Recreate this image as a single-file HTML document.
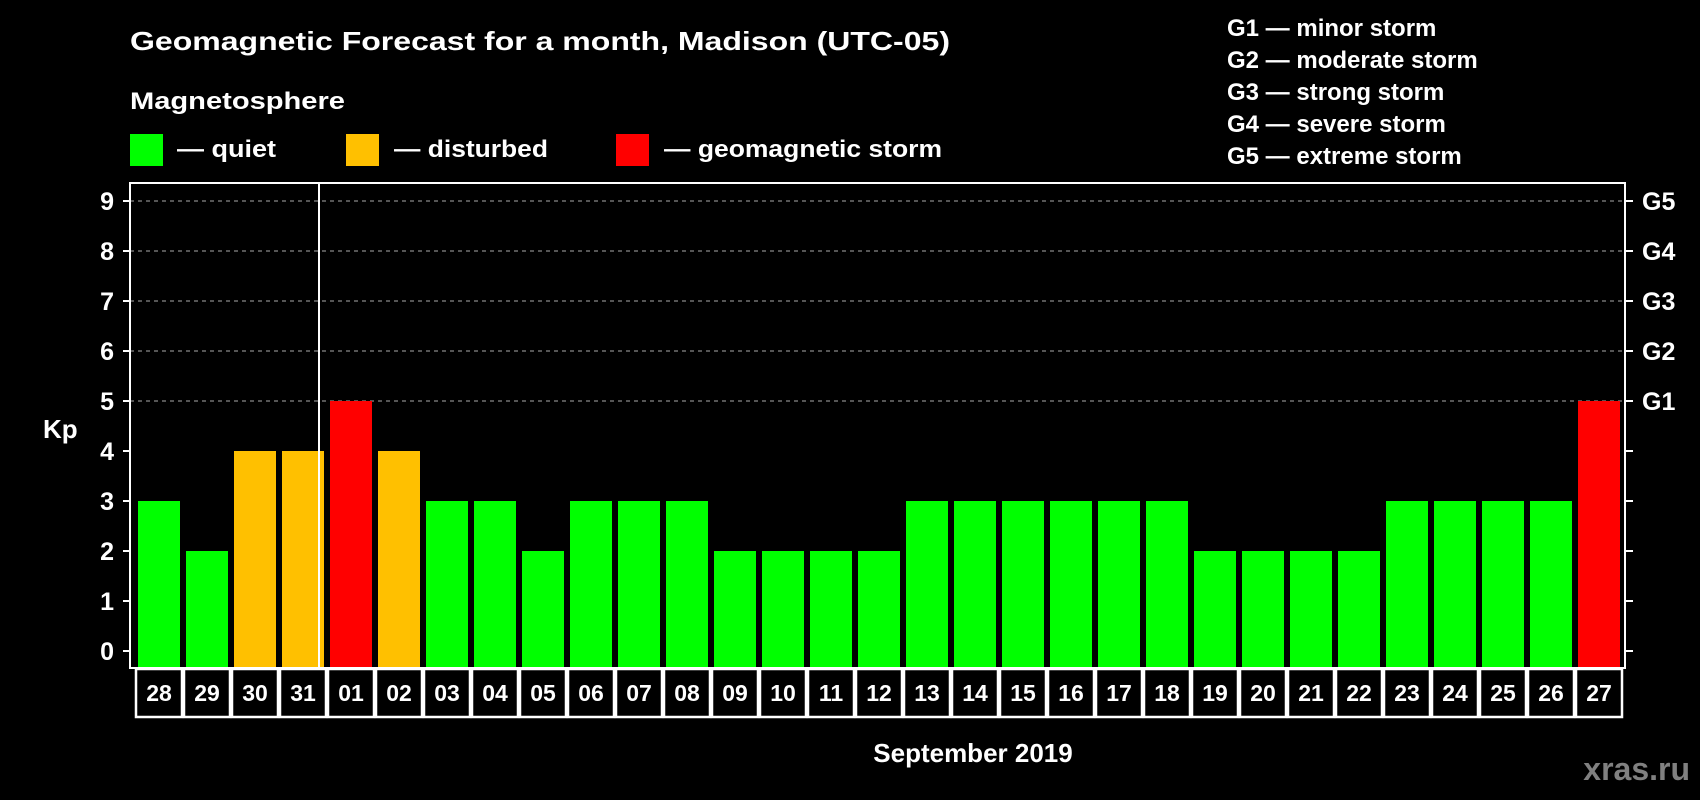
<!DOCTYPE html>
<html><head><meta charset="utf-8"><style>
html,body{margin:0;padding:0;background:#000;}
svg{display:block;font-family:"Liberation Sans",sans-serif;font-weight:bold;}
</style></head><body>
<svg id="chart" width="1700" height="800" viewBox="0 0 1700 800" xmlns="http://www.w3.org/2000/svg">
<rect width="1700" height="800" fill="#000"/>
<text x="130" y="50" fill="#fff" font-size="26" textLength="820" lengthAdjust="spacingAndGlyphs">Geomagnetic Forecast for a month, Madison (UTC-05)</text>
<text x="130" y="109" fill="#fff" font-size="24" textLength="215" lengthAdjust="spacingAndGlyphs">Magnetosphere</text>
<g>
<rect x="130" y="134" width="33" height="32" fill="#00ff00"/>
<text x="177" y="157" fill="#fff" font-size="24" textLength="99" lengthAdjust="spacingAndGlyphs">— quiet</text></g>
<g>
<rect x="346" y="134" width="33" height="32" fill="#ffc000"/>
<text x="394" y="157" fill="#fff" font-size="24" textLength="154" lengthAdjust="spacingAndGlyphs">— disturbed</text></g>
<g>
<rect x="616" y="134" width="33" height="32" fill="#ff0000"/>
<text x="664" y="157" fill="#fff" font-size="24" textLength="278" lengthAdjust="spacingAndGlyphs">— geomagnetic storm</text></g>
<g fill="#fff" font-size="24">
<text x="1227" y="36">G1 — minor storm</text>
<text x="1227" y="68">G2 — moderate storm</text>
<text x="1227" y="100">G3 — strong storm</text>
<text x="1227" y="132">G4 — severe storm</text>
<text x="1227" y="164">G5 — extreme storm</text>
</g>
<text x="43" y="438" fill="#fff" font-size="26">Kp</text>
<text x="973" y="762" fill="#fff" font-size="26" text-anchor="middle">September 2019</text>
<text x="1690" y="780" fill="#808080" font-size="32" text-anchor="end">xras.ru</text>
<g id="grid"></g><g id="bars"></g><g id="axes"></g>
</svg>
<script>
const days = ["28","29","30","31","01","02","03","04","05","06","07","08","09","10","11","12","13","14","15","16","17","18","19","20","21","22","23","24","25","26","27"];
const kp = [3,2,4,4,5,4,3,3,2,3,3,3,2,2,2,2,3,3,3,3,3,3,2,2,2,2,3,3,3,3,5];
const yTicks = [0,1,2,3,4,5,6,7,8,9];
const gLabels = ["G1","G2","G3","G4","G5"];
const gLevels = [5,6,7,8,9];
const NS="http://www.w3.org/2000/svg";
const x0=135, colW=48, frameL=130, frameR=1625, frameT=183, frameB=668;
const y=v=>651-50*v;
const xCol=i=>x0+colW*i;
function mk(tag,attrs,parent){const e=document.createElementNS(NS,tag);for(const k in attrs)e.setAttribute(k,attrs[k]);parent.appendChild(e);return e;}
const grid=document.getElementById('grid'),bars=document.getElementById('bars'),axes=document.getElementById('axes');
gLevels.forEach(v=>{const l=mk('line',{x1:frameL,x2:frameR,y1:y(v),y2:y(v),stroke:'#888','stroke-width':1.3,'stroke-dasharray':'4 4'},grid);

});
kp.forEach((v,i)=>{const c=v>=5?'#ff0000':(v>=4?'#ffc000':'#00ff00');
const r=mk('rect',{x:xCol(i)+3,y:y(v),width:42,height:frameB-y(v),fill:c},bars);


const b=mk('rect',{x:xCol(i)+1,y:frameB+1,width:colW-2,height:48,fill:'none',stroke:'#fff','stroke-width':2.5},axes);


const t=mk('text',{x:xCol(i)+colW/2,y:701,fill:'#fff','font-size':23,'text-anchor':'middle'},axes);t.textContent=days[i];

});
const f=mk('rect',{x:frameL,y:frameT,width:frameR-frameL,height:frameB-frameT,fill:'none',stroke:'#fff','stroke-width':2},axes);


const sep=mk('line',{x1:xCol(4)-8,x2:xCol(4)-8,y1:frameT,y2:frameB,stroke:'#fff','stroke-width':2},axes);


yTicks.forEach(v=>{mk('line',{x1:123,x2:frameL,y1:y(v),y2:y(v),stroke:'#fff','stroke-width':2},axes);
mk('line',{x1:frameR,x2:1633,y1:y(v),y2:y(v),stroke:'#fff','stroke-width':2},axes);
const t=mk('text',{x:114,y:y(v)+9,fill:'#fff','font-size':25,'text-anchor':'end'},axes);t.textContent=v;

});
gLabels.forEach((g,i)=>{const t=mk('text',{x:1642,y:y(gLevels[i])+9,fill:'#fff','font-size':25},axes);t.textContent=g;

});
</script>
</body></html>
